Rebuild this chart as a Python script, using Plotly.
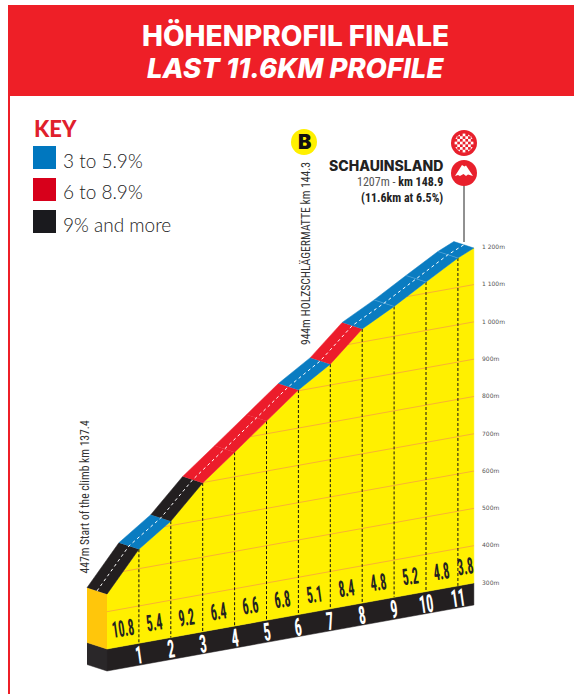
import numpy as np
import plotly.graph_objects as go

W, H = 574, 694

# ---- data ----
km_marks = [0, 1, 2, 3, 4, 5, 6, 7, 8, 9, 10, 11, 11.5]
elevation = [447, 552, 612, 699, 766, 834, 902, 956, 1035, 1080, 1130, 1179, 1198]
gradient = [10.8, 5.4, 9.2, 6.4, 6.6, 6.8, 5.1, 8.4, 4.8, 5.2, 4.8, 3.8]
grid_levels = [400, 500, 600, 700, 800, 900, 1000, 1100]
scale_levels = [300, 400, 500, 600, 700, 800, 900, 1000, 1100, 1200]
scale_labels = ["300m", "400m", "500m", "600m", "700m", "800m", "900m", "1 000m", "1 100m", "1 200m"]
km_labels = ["1", "2", "3", "4", "5", "6", "7", "8", "9", "10", "11"]
key_labels = ["3 to 5.9%", "6 to 8.9%", "9% and more"]
key_colors = ["#0077BF", "#D7001B", "#1A1A1E"]

# ---- drawing constants ----
BLUE, RED, BLACK = "#0A7CC1", "#EC1C2B", "#231F20"
YELLOW, AMBER, GRID = "#FFF000", "#FFC60B", "#F9B233"
BASE = 300
PX_KM, PX_M = 31.9, 0.373
TILT = 5.74 / PX_M    # sheared drawing: metres of display height per km
X0, Y0 = 107, 649
DX, DV = -0.627, 17.4   # road depth
DEPTH = 59.0            # base block height


def road_colour(g):
    return BLACK if g >= 9 else RED if g >= 6 else BLUE


def sheared(k, e):
    return np.asarray(e, float) + TILT * np.asarray(k, float)


def px(x):
    return x / W


def py(y):
    return 1 - y / H


km = np.array(km_marks, float)
ele = np.array(elevation, float)
fig = go.Figure()


def poly(xs, ys, colour, line=None):
    fig.add_trace(go.Scatter(x=list(xs), y=list(ys), mode="lines", fill="toself", fillcolor=colour,
                             line=dict(color=line or colour, width=0.5), hoverinfo="skip", showlegend=False))


end = km[-1]
# base block
poly([0, end, end, 0], [sheared(0, BASE), sheared(end, BASE), sheared(end, BASE) - DEPTH, sheared(0, BASE) - DEPTH], BLACK)
poly([DX, 0, 0, DX], [sheared(0, BASE) + DV, sheared(0, BASE), sheared(0, BASE) - DEPTH, sheared(0, BASE) + DV - DEPTH], "#2A2729")
# amber left face
poly([DX, 0, 0, DX], [sheared(0, ele[0]) + DV, sheared(0, ele[0]), sheared(0, BASE), sheared(0, BASE) + DV], AMBER)
# yellow wall
poly(list(km) + [end, 0], list(sheared(km, ele)) + [sheared(end, BASE), sheared(0, BASE)], YELLOW)

# grid lines, clipped to the profile
for lv in grid_levels:
    start = float(np.interp(lv, ele, km)) if lv > ele[0] else 0.0
    fig.add_trace(go.Scatter(x=[start, end], y=[sheared(start, lv), sheared(end, lv)], mode="lines",
                             line=dict(color=GRID, width=1), hoverinfo="skip", showlegend=False))

# km dashed lines
for k, e in zip(km[1:-1], ele[1:-1]):
    fig.add_trace(go.Scatter(x=[k, k], y=[sheared(k, e), sheared(k, BASE)], mode="lines",
                             line=dict(color="#111111", width=1, dash="3px,2px"), hoverinfo="skip", showlegend=False))

# road segments
for i, g in enumerate(gradient):
    a, b = km[i], km[i + 1]
    ya, yb = sheared(a, ele[i]), sheared(b, ele[i + 1])
    c = road_colour(g)
    poly([a, b, b + DX, a + DX], [ya, yb, yb + DV, ya + DV], c)

# thin separators inside the blue finish
for i in range(9, 12):
    k = km[i]
    y = sheared(k, ele[i])
    fig.add_trace(go.Scatter(x=[k, k + DX], y=[y, y + DV], mode="lines",
                             line=dict(color="#4FA3D8", width=0.7), hoverinfo="skip", showlegend=False))

# centre dashes
fig.add_trace(go.Scatter(x=km + DX / 2, y=sheared(km, ele) + DV / 2, mode="lines",
                         line=dict(color="#FFFFFF", width=1, dash="3px,3px"), hoverinfo="skip", showlegend=False))

ann = []
NUM = "Roboto Condensed, DejaVu Sans Condensed, Roboto"


def text(x, y, s, size, colour="#111111", family="Lato", anchor="center", angle=0, weight=None, style=None):
    shift = {"left": -2, "right": 2}.get(anchor, 0)
    f = dict(size=size, color=colour, family=family)
    if weight:
        f["weight"] = weight
    if style:
        f["style"] = style
    ann.append(dict(x=px(x), y=py(y), xref="paper", yref="paper", text=s, showarrow=False, xshift=shift,
                    xanchor=anchor, yanchor="middle", textangle=angle, align="right" if anchor == "right" else "left",
                    font=f))


# gradients and km numbers (data coordinates)
for i, g in enumerate(gradient):
    mid = (km[i] + min(km[i + 1], 11.5)) / 2
    ann.append(dict(x=mid, y=sheared(mid, BASE) + 47, text=f"<b>{g}</b>", showarrow=False, textangle=-8,
                    font=dict(size=19, family=NUM, color="#222222")))
for lab, k in zip(km_labels, km[1:-1]):
    ann.append(dict(x=k, y=sheared(k, BASE) - 32, text=f"<b>{lab}</b>", showarrow=False, textangle=-8,
                    font=dict(size=20, family=NUM, color="#FFFFFF")))
# elevation scale on the right
for lv, lab in zip(scale_levels, scale_labels):
    ann.append(dict(x=end + 0.2, y=sheared(end, lv) + 2, text=lab, showarrow=False, xanchor="left",
                    font=dict(size=6, family="DejaVu Sans", color="#555555")))

# ---- header ----
shapes = []


def rect(x0, y0, x1, y1, colour):
    shapes.append(dict(type="rect", xref="paper", yref="paper", x0=px(x0), x1=px(x1), y0=py(y1), y1=py(y0),
                       fillcolor=colour, line=dict(width=0)))


def circle(cx, cy, r, colour):
    shapes.append(dict(type="circle", xref="paper", yref="paper", x0=px(cx - r), x1=px(cx + r),
                       y0=py(cy + r), y1=py(cy - r), fillcolor=colour, line=dict(width=0)))


rect(8, 5, W, 96, "#EE1F27")
rect(8, 96, 10, H, "#EE1F27")
text(295, 36, "HÖHENPROFIL FINALE", 28, "#FFFFFF", "Inter", weight=800)
text(295, 68, "LAST 11.6KM PROFILE", 27.5, "#FFFFFF", "Inter", weight=800, style="italic")

# key
text(34, 128, "KEY", 22, "#E0202C", "Lato", "left", weight=900)
for i, (lab, col) in enumerate(zip(key_labels, key_colors)):
    y = 146 + 32 * i
    rect(33, y, 56, y + 23, col)
    text(63, y + 14, lab, 19, "#222222", "Lato", "left", weight=300)

# labels on the profile
text(305, 254, "944m HOLZSCHLÄGERMATTE km 144.3", 13.5, "#333333", NUM, angle=-90)
text(84, 497, "447m Start of the climb km 137.4", 13.5, "#333333", NUM, angle=-90)
text(443, 166, "SCHAUINSLAND", 14, "#222222", "Inter", "right", weight=800)
text(443, 182, '<span style="color:#555555">1207m - </span><b>km 148.9</b>', 12, "#222222", NUM, "right")
text(443, 198, "<b>(11.6km at 6.5%)</b>", 12, "#222222", NUM, "right")

# B marker
circle(304, 142, 13, "#FFF000")
text(304, 142, "B", 20, "#111111", "Inter", weight=900)

# finish flag & summit markers
shapes.append(dict(type="line", xref="paper", yref="paper", x0=px(464), x1=px(464), y0=py(242), y1=py(185),
                   line=dict(color="#222222", width=1)))
circle(464, 143, 13, "#E8202C")
circle(464, 143, 9.5, "#FFFFFF")
for r in range(-3, 4):
    for c in range(-3, 4):
        if (r + c) % 2 == 0 and r * r + c * c <= 10:
            rect(464 + c * 2.7 - 1.35, 143 + r * 2.7 - 1.35, 464 + c * 2.7 + 1.35, 143 + r * 2.7 + 1.35, "#E8202C")
circle(464, 173, 13, "#E8202C")
m = [(455, 176), (462, 165), (464.5, 166.5), (466, 165.5), (473, 176), (468, 174.5), (466, 176), (463.5, 174), (460, 176), (458, 175)]
shapes.append(dict(type="path", xref="paper", yref="paper", fillcolor="#FFFFFF", line=dict(width=0),
                   path="M " + " L ".join(f"{px(a):.5f},{py(b):.5f}" for a, b in m) + " Z"))

fig.update_layout(
    width=W, height=H, margin=dict(l=0, r=0, t=0, b=0), paper_bgcolor="white", plot_bgcolor="white",
    showlegend=False, annotations=ann, shapes=shapes,
    xaxis=dict(visible=False, range=[-X0 / PX_KM, (W - X0) / PX_KM], fixedrange=True),
    yaxis=dict(visible=False, range=[BASE - (H - Y0) / PX_M, BASE + Y0 / PX_M], fixedrange=True),
)

POST = """
document.body.style.margin='0';document.documentElement.style.overflow='hidden';
function narrow(){
  document.querySelectorAll('text.annotation-text').forEach(function(t){
    var s=t.textContent, tr=null;
    if(/^[0-9]+[.][0-9]$/.test(s)) tr='scale(.64,1.2)';
    else if(/^[0-9]+$/.test(s)) tr='scale(.7,1.25)';
    else if(/^(447|944)m /.test(s)) tr='scale(.86,1)';
    if(tr){t.style.transformBox='fill-box';t.style.transformOrigin='center';t.style.transform=tr;}
  });
}
narrow();setTimeout(narrow,0);
"""
fig.write_html("out.html", config=dict(displayModeBar=False), post_script=POST)
